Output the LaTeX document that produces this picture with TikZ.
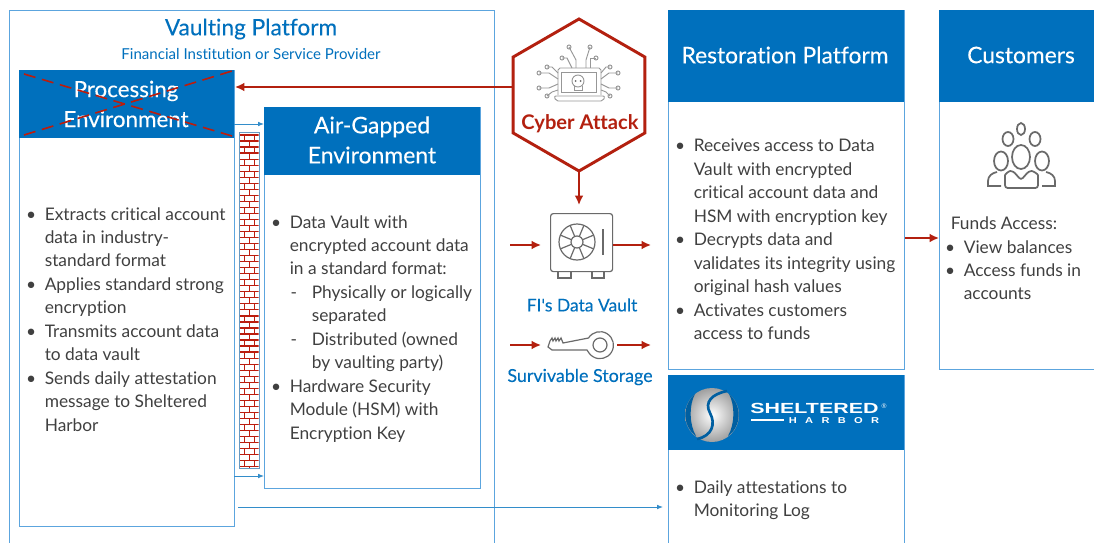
\documentclass[tikz,border=0pt]{standalone}
\usepackage{fontspec}
\setmainfont[Ligatures=NoCommon]{Lato}
\newfontfamily\medfont[FakeBold=0.2,Ligatures=NoCommon]{Lato}
\newfontfamily\logofont{Liberation Sans}
\newfontfamily\spacedfont[LetterSpace=75]{Liberation Sans}
\usetikzlibrary{shapes.geometric, arrows.meta, positioning, calc}
\def\px{0.75pt}
\definecolor{fiblue}{HTML}{0070BD}
\definecolor{edgeblue}{HTML}{5CA5DE}
\definecolor{attackred}{HTML}{B3200F}
\definecolor{icongray}{HTML}{6A6A6A}
\definecolor{bodygray}{HTML}{404040}
\newcommand{\itm}{\llap{\textbullet\hspace{6.5pt}}}
\newcommand{\sub}{\hspace{16.5pt}\llap{-\hspace{11pt}}}
\tikzset{
  panel/.style={draw=edgeblue,line width=1pt,fill=white,inner sep=0pt,anchor=north west},
  hdr/.style={fill=fiblue,inner sep=0pt,anchor=north west},
  hdrtext/.style={text=white,align=center,inner sep=0pt},
  listtext/.style={text=bodygray,align=left,inner sep=0pt,anchor=north west,font=\fontsize{13}{17.6}\selectfont},
  bluelabel/.style={text=fiblue,inner sep=0pt},
  redarrow/.style={draw=attackred,line width=1.3pt,-{Latex[length=7pt,width=6.5pt]}},
  bluearrow/.style={draw=fiblue!80!white,line width=0.6pt,-{Latex[length=4.5pt,width=3.5pt]}},
  iconline/.style={draw=icongray,line width=0.9pt},
  thinicon/.style={draw=icongray!70!white,line width=0.7pt},
  crossline/.style={draw=attackred!90!red,line width=1.2pt,dash pattern=on 9pt off 5pt},
}
\begin{document}
\begin{tikzpicture}[x=0.75pt,y=-0.75pt]
\path[use as bounding box,clip] (0,0) rectangle (1094,542);
\fill[white] (0,0) rectangle (1094,542);
% Vaulting platform
\node[panel,minimum width=485*\px,minimum height=560*\px] (vault) at (9,10) {};
\node[bluelabel,font=\fontsize{17}{20}\medfont\selectfont] (vaulttitle) at (251,29) {Vaulting Platform};
\node[bluelabel,font=\fontsize{11.3}{13}\selectfont] (vaultsub) at (251,54) {Financial Institution or Service Provider};
% Processing environment
\node[panel,minimum width=215*\px,minimum height=456*\px] (proc) at (19,70) {};
\node[hdr,minimum width=215*\px,minimum height=68*\px] (prochdr) at (19,70) {};
\node[hdrtext,font=\fontsize{16.8}{22.5}\medfont\selectfont] (proctext) at (126,104) {Processing\\Environment};
\coordinate (crossa) at (24,74);
\coordinate (crossb) at (232,136);
\coordinate (crossc) at (24,135);
\coordinate (crossd) at (232,71);
\draw[crossline] (crossa) -- (crossb);
\draw[crossline] (crossc) -- (crossd);
\node[listtext] (proclist) at (44.5,207) {\itm Extracts critical account\\data in industry-\\standard format\\\itm Applies standard strong\\encryption\\\itm Transmits account data\\to data vault\\\itm Sends daily attestation\\message to Sheltered\\Harbor};
% Firewall
\node[draw=edgeblue!70!gray,line width=0.7pt,fill=white,inner sep=0pt,anchor=north west,minimum width=20*\px,minimum height=336*\px] (wall) at (239,132) {};
\begin{scope}
\clip (239.5,132.5) rectangle (258.5,467.5);
\foreach \i in {0,...,55} {
  \pgfmathsetmacro{\ya}{135+6.03*\i}
  \pgfmathsetmacro{\yb}{\ya+6.03}
  \draw[attackred!90!red,line width=0.9pt] (239,\ya) -- (259,\ya);
  \ifodd\i
    \draw[attackred!90!red,line width=0.7pt] (249,\ya) -- (249,\yb);
  \else
    \draw[attackred!90!red,line width=0.7pt] (244,\ya) -- (244,\yb);
    \draw[attackred!90!red,line width=0.7pt] (254,\ya) -- (254,\yb);
  \fi
}
\end{scope}
\draw[draw=edgeblue!70!gray,line width=0.7pt] (wall.north west) rectangle (wall.south east);
% Air-gapped environment
\node[panel,minimum width=216*\px,minimum height=381*\px] (air) at (264,107) {};
\node[hdr,minimum width=216*\px,minimum height=68*\px] (airhdr) at (264,107) {};
\node[hdrtext,font=\fontsize{17.2}{22.5}\medfont\selectfont] (airtext) at (372,140) {Air-Gapped\\Environment};
\node[listtext] (airlist) at (289.5,215) {\itm Data Vault with\\encrypted account data\\in a standard format:\\\sub Physically or logically\\\hspace{16.5pt}separated\\\sub Distributed (owned\\\hspace{16.5pt}by vaulting party)\\\itm Hardware Security\\Module (HSM) with\\Encryption Key};
\coordinate (gapa) at (234,124);
\coordinate (gapb) at (264,124);
\coordinate (gapc) at (234,476);
\coordinate (gapd) at (264,476);
\draw[bluearrow] (gapa) -- (gapb);
\draw[bluearrow] (gapc) -- (gapd);
% Cyber attack
\node[regular polygon,regular polygon sides=6,shape border rotate=90,draw=attackred,line width=2.2pt,fill=white,minimum size=152*\px,inner sep=0pt,outer sep=0pt] (attack) at (579,95) {};
\node[text=attackred,font=\fontsize{15.1}{17}\bfseries\selectfont,inner sep=0pt] (attacktext) at (580,123.5) {Cyber Attack};
\coordinate (attackl) at (513,87);
\coordinate (procr) at (235,87);
\draw[redarrow] (attackl) -- (procr);
% Laptop icon
\draw[thinicon] (558,95) -- (558,70) -- ++(2,-2) -- (599,68) -- ++(2,2) -- (601,95);
\draw[thinicon] (561,72) rectangle (596,92);
\draw[thinicon,rounded corners=1.5pt] (554,96) -- (605,96) -- (603,101) -- (556,101) -- cycle;
\draw[thinicon] (578,81) circle (6);
\draw[thinicon] (574,86) -- (574,90) -- (582,90) -- (582,86);
\fill[icongray] (575.5,81) circle (1) (580.5,81) circle (1);
\foreach \dotx/\doty/\midx/\midy/\endx/\endy in {
  569/47/576/60/576/68, 590/47/586/60/586/68, 562/58/567/58/572/68, 596/58/590/58/590/68,
  539/73/549/73/558/79, 547/67/552/67/558/73, 539/88/549/88/558/84, 547/96/552/92/558/90,
  618/73/609/73/601/79, 610/67/606/67/601/73, 618/88/609/88/601/84, 610/96/606/92/601/90} {
  \draw[thinicon] (\dotx,\doty) circle (2);
  \draw[thinicon] (\dotx,\doty) -- (\midx,\midy) -- (\endx,\endy);
}
% Data vault icon
\node[iconline,draw,rounded corners=2pt,minimum width=62*\px,minimum height=58*\px,inner sep=0pt,anchor=north west] (safe) at (550,213) {};
\draw[iconline] (558,271) -- (558,278) -- (571,278) -- (571,271);
\draw[iconline] (592,271) -- (592,278) -- (604,278) -- (604,271);
\draw[iconline] (577,242) circle (18);
\draw[iconline] (577,242) circle (6);
\foreach \a in {22.5,67.5,...,337.5} {
  \draw[iconline] ($(577,242)+(\a:6)$) -- ($(577,242)+(\a:18)$);
}
\draw[iconline] (603,229) -- (603,255);
\coordinate (safetop) at (579,205);
\draw[redarrow] (attack.south) -- (safetop);
\coordinate (safeinl) at (510,245);
\coordinate (safeinr) at (541,245);
\coordinate (safeoutl) at (613,245);
\coordinate (safeoutr) at (651,245);
\draw[redarrow] (safeinl) -- (safeinr);
\draw[redarrow] (safeoutl) -- (safeoutr);
\node[bluelabel,font=\fontsize{13.1}{15}\medfont\selectfont] (safelabel) at (582,305) {FI's Data Vault};
% Key icon
\draw[iconline] (600,345) circle (7);
\draw[iconline] (588.5,338) arc (-148:148:13.5) -- (587,350) -- (552,350) -- (548,347) -- (550,341) -- (552,338) -- (553,341) -- (555,338) -- (556,341) -- (558,338) -- (559,341) -- (561,338) -- (563,343) -- cycle;
\coordinate (keyinl) at (510,345);
\coordinate (keyinr) at (541,345);
\coordinate (keyoutl) at (617,345);
\coordinate (keyoutr) at (651,345);
\draw[redarrow] (keyinl) -- (keyinr);
\draw[redarrow] (keyoutl) -- (keyoutr);
\node[bluelabel,font=\fontsize{13.4}{15}\medfont\selectfont] (keylabel) at (580,377) {Survivable Storage};
% Restoration platform
\node[panel,minimum width=236*\px,minimum height=359*\px] (rest) at (668,10) {};
\node[hdr,minimum width=236*\px,minimum height=92*\px] (resthdr) at (668,10) {};
\node[hdrtext,font=\fontsize{17.1}{20}\medfont\selectfont] (resttext) at (785,55) {Restoration Platform};
\node[listtext] (restlist) at (693.5,139) {\itm Receives access to Data\\Vault with encrypted\\critical account data and\\HSM with encryption key\\\itm Decrypts data and\\validates its integrity using\\original hash values\\\itm Activates customers\\access to funds};
% Sheltered Harbor
\node[panel,minimum width=236*\px,minimum height=200*\px] (shelter) at (668,375) {};
\node[hdr,minimum width=236*\px,minimum height=75*\px] (shelthdr) at (668,375) {};
\shade[inner color=white,outer color=gray!75!white] (712,415) circle (27);
\fill[fiblue!85!black] (695,394) .. controls (682,405) and (682,426) .. (696,436) .. controls (689,424) and (689,405) .. (695,394) -- cycle;
\fill[fiblue!85!black] (729,394) .. controls (742,405) and (742,426) .. (728,436) .. controls (735,424) and (735,405) .. (729,394) -- cycle;
\draw[fiblue!85!black,line width=2pt] (727,391) .. controls (712,394) and (704,402) .. (710,413) .. controls (716,424) and (712,436) .. (697,439);
\node[text=white,font=\fontsize{11}{12}\logofont\bfseries\selectfont,xscale=1.46,inner sep=0pt] (sheltlogo) at (814.5,408) {SHELTERED};
\node[text=white,font=\fontsize{5}{6}\logofont\selectfont,inner sep=0pt] (sheltreg) at (884,406) {\textregistered};
\node[text=white,font=\fontsize{6.4}{8}\spacedfont\bfseries\selectfont,xscale=1.3,inner sep=0pt] (sheltsub) at (834,420.5) {HARBOR};
\coordinate (logola) at (751,420);
\coordinate (logolb) at (784,420);
\draw[white,line width=0.9pt] (logola) -- (logolb);
\node[listtext] (sheltlist) at (693.5,480) {\itm Daily attestations to\\Monitoring Log};
\coordinate (logstart) at (238,507);
\coordinate (logend) at (663,507);
\draw[bluearrow] (logstart) -- (logend);
% Customers
\node[panel,minimum width=200*\px,minimum height=359*\px] (cust) at (939,10) {};
\node[hdr,minimum width=200*\px,minimum height=92*\px] (custhdr) at (939,10) {};
\node[hdrtext,font=\fontsize{17.1}{20}\medfont\selectfont] (custtext) at (1021,55) {Customers};
\node[listtext] (custhead) at (950.5,216) {Funds Access:};
\node[listtext] (custlist) at (963.5,240) {\itm View balances\\\itm Access funds in\\accounts};
\draw[redarrow] (rest.east |- 0,238) -- (cust.west |- 0,238);
% People icon
\foreach \cx/\cy/\rx/\ry in {1021/129/4/6,1008/139/5.5/7,1035/139/5.5/7,1001/161/7/9.5,1042/161/7/9.5,1021/157/9/12} {
  \draw[iconline,line width=1.3pt] (\cx,\cy) ellipse ({\rx} and {\ry});
}
\draw[iconline,line width=1.3pt,rounded corners=2pt] (1005,188) -- (1005,178) .. controls (1005,174) and (1009,171) .. (1013,171) -- (1021,180) -- (1029,171) .. controls (1033,171) and (1038,174) .. (1038,178) -- (1038,188) -- cycle;
\draw[iconline,line width=1.3pt] (1001,186) -- (988,186) -- (988,181) .. controls (988,176) and (992,173) .. (997,172);
\draw[iconline,line width=1.3pt] (1042,186) -- (1055,186) -- (1055,181) .. controls (1055,176) and (1051,173) .. (1046,172);
\end{tikzpicture}
\end{document}
